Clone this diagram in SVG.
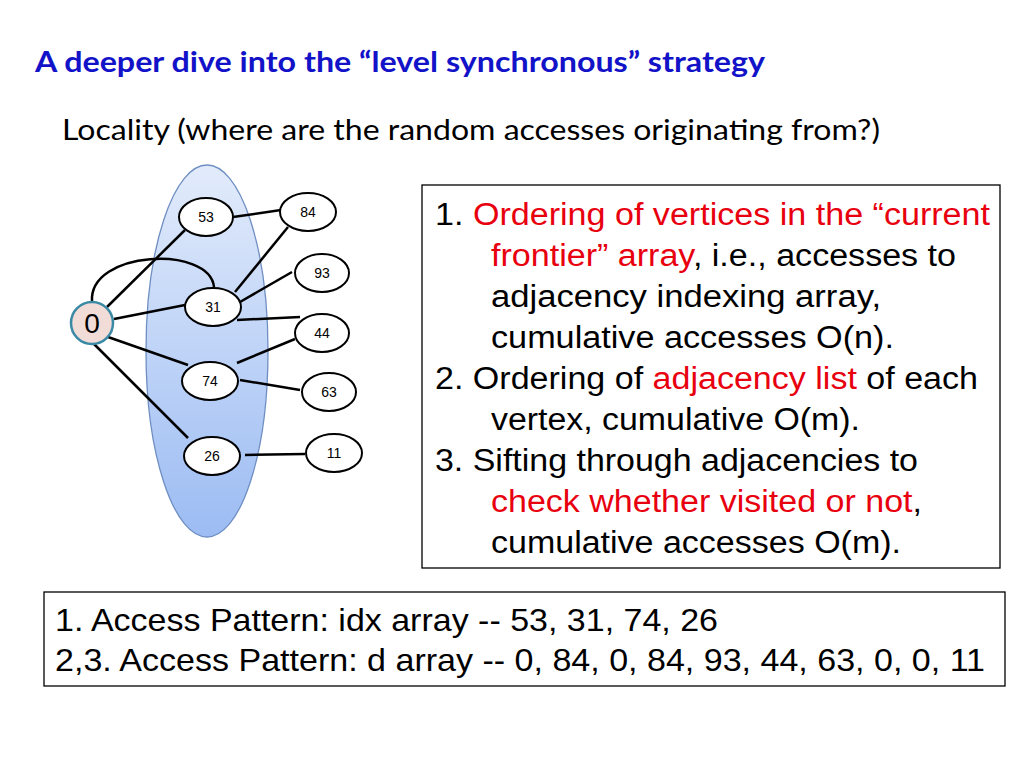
<svg xmlns="http://www.w3.org/2000/svg" width="1024" height="768" viewBox="0 0 1024 768">
<defs>
<linearGradient id="gfront" x1="0" y1="0" x2="0" y2="1">
<stop offset="0" stop-color="#e2ebfb"/>
<stop offset="1" stop-color="#9cbcf3"/>
</linearGradient>
<style>
.edge{fill:none;stroke:#000;stroke-width:2.5}
.node{fill:#fff;stroke:#000;stroke-width:2}
.nl{font-family:"Liberation Sans",Arial,sans-serif;font-size:14px;text-anchor:middle;fill:#000}
.bt{font-family:"Liberation Sans",Arial,sans-serif;font-size:31px;fill:#000}
.pt{font-family:"Liberation Sans",Arial,sans-serif;font-size:32px;fill:#000}
.red{fill:#e8000e}
.box{fill:#fff;stroke:#000;stroke-width:1.3}
</style>
</defs>
<rect width="1024" height="768" fill="#fff"/>
<text x="35" y="72" font-family="Lato,'Open Sans',sans-serif" font-weight="bold" font-size="28" fill="#1212c8" textLength="730" lengthAdjust="spacingAndGlyphs">A deeper dive into the “level synchronous” strategy</text>
<text x="62" y="140" font-family="Lato,'Open Sans',sans-serif" font-size="29" fill="#000" textLength="818" lengthAdjust="spacingAndGlyphs">Locality (where are the random accesses originating from?)</text>

<g id="frontier">
<ellipse cx="207" cy="351" rx="61" ry="186" fill="url(#gfront)" stroke="#6f8fc2" stroke-width="1.3"/>
</g>

<g id="connectors">
<line class="edge" x1="107" y1="307" x2="185" y2="230"/>
<path class="edge" d="M92 302 C88 250,210 245,214 287"/>
<line class="edge" x1="114" y1="319" x2="185" y2="305"/>
<line class="edge" x1="108" y1="337" x2="188" y2="365"/>
<line class="edge" x1="94" y1="344" x2="188" y2="438"/>
<line class="edge" x1="233" y1="217" x2="281" y2="210"/>
<line class="edge" x1="235" y1="292" x2="288" y2="227"/>
<line class="edge" x1="240" y1="302" x2="292" y2="272"/>
<line class="edge" x1="237" y1="320" x2="300" y2="317"/>
<line class="edge" x1="237" y1="363" x2="295" y2="339"/>
<line class="edge" x1="240" y1="380" x2="300" y2="390"/>
<line class="edge" x1="245" y1="455" x2="305" y2="454"/>
</g>

<g id="n0"><circle cx="92" cy="323" r="21" fill="#f1dcd8" stroke="#3a8aa6" stroke-width="2.5"/><text x="92" y="333" font-family="'Liberation Sans',Arial,sans-serif" font-size="28" text-anchor="middle">0</text></g>
<g id="n53"><ellipse class="node" cx="206" cy="217" rx="27" ry="19"/><text class="nl" x="206" y="222">53</text></g>
<g id="n84"><ellipse class="node" cx="308" cy="212" rx="28" ry="19"/><text class="nl" x="308" y="217">84</text></g>
<g id="n93"><ellipse class="node" cx="322" cy="273" rx="27" ry="19"/><text class="nl" x="322" y="278">93</text></g>
<g id="n31"><ellipse class="node" cx="213" cy="307" rx="28" ry="19"/><text class="nl" x="213" y="312">31</text></g>
<g id="n44"><ellipse class="node" cx="322" cy="333" rx="27" ry="19"/><text class="nl" x="322" y="338">44</text></g>
<g id="n74"><ellipse class="node" cx="210" cy="381" rx="28" ry="19"/><text class="nl" x="210" y="386">74</text></g>
<g id="n63"><ellipse class="node" cx="329" cy="392" rx="27" ry="19"/><text class="nl" x="329" y="397">63</text></g>
<g id="n26"><ellipse class="node" cx="212" cy="456" rx="28" ry="19"/><text class="nl" x="212" y="461">26</text></g>
<g id="n11"><ellipse class="node" cx="334" cy="453" rx="28" ry="19"/><text class="nl" x="334" y="458">11</text></g>

<g id="notes">
<rect class="box" x="422" y="185" width="578" height="383"/>
<text class="bt" x="435" y="225" textLength="555" lengthAdjust="spacingAndGlyphs">1. <tspan class="red">Ordering of vertices in the “current</tspan></text>
<text class="bt" x="491" y="266" textLength="465" lengthAdjust="spacingAndGlyphs"><tspan class="red">frontier” array</tspan>, i.e., accesses to</text>
<text class="bt" x="491" y="307" textLength="390" lengthAdjust="spacingAndGlyphs">adjacency indexing array,</text>
<text class="bt" x="491" y="348" textLength="403" lengthAdjust="spacingAndGlyphs">cumulative accesses O(n).</text>
<text class="bt" x="435" y="389" textLength="543" lengthAdjust="spacingAndGlyphs">2. Ordering of <tspan class="red">adjacency list</tspan> of each</text>
<text class="bt" x="491" y="430" textLength="369" lengthAdjust="spacingAndGlyphs">vertex, cumulative O(m).</text>
<text class="bt" x="435" y="471" textLength="483" lengthAdjust="spacingAndGlyphs">3. Sifting through adjacencies to</text>
<text class="bt" x="491" y="512" textLength="431" lengthAdjust="spacingAndGlyphs"><tspan class="red">check whether visited or not</tspan>,</text>
<text class="bt" x="491" y="553" textLength="410" lengthAdjust="spacingAndGlyphs">cumulative accesses O(m).</text>
</g>

<g id="pattern">
<rect class="box" x="44" y="592" width="961" height="94"/>
<text class="pt" x="55" y="631" textLength="663" lengthAdjust="spacingAndGlyphs">1. Access Pattern: idx array -- 53, 31, 74, 26</text>
<text class="pt" x="55" y="671" textLength="930" lengthAdjust="spacingAndGlyphs">2,3. Access Pattern: d array -- 0, 84, 0, 84, 93, 44, 63, 0, 0, 11</text>
</g>
</svg>
